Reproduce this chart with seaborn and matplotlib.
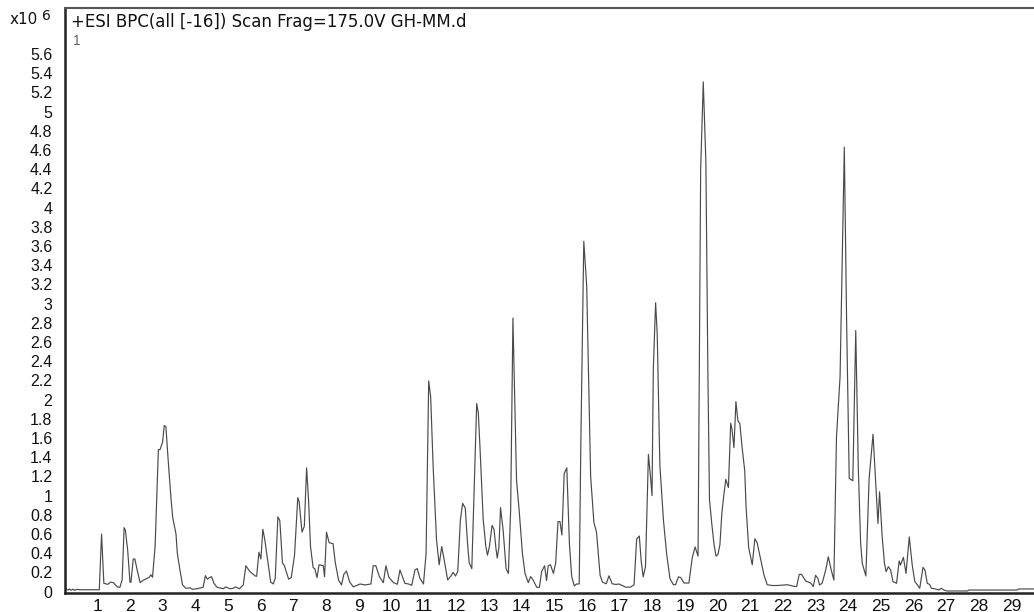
import matplotlib
matplotlib.use("Agg")
import matplotlib.pyplot as plt
import seaborn as sns
import pandas as pd

# ---- data (retention time in min, intensity x10^6) ----
rt_min = [0.04, 0.1, 0.15, 0.2, 0.26, 0.3, 0.37, 0.45, 1.06, 1.13, 1.2, 1.32, 1.41, 1.49, 1.61, 1.69, 1.76,
          1.82, 1.86, 1.93, 2.0, 2.03, 2.1, 2.15, 2.22, 2.31, 2.41, 2.59, 2.64, 2.69, 2.77, 2.87, 2.92, 3.0,
          3.05, 3.10, 3.17, 3.26, 3.31, 3.41, 3.45, 3.53, 3.61, 3.71, 3.84, 3.92, 4.04, 4.24, 4.31, 4.37,
          4.43, 4.5, 4.57, 4.67, 4.86, 4.93, 5.06, 5.16, 5.23, 5.35, 5.47, 5.55, 5.67, 5.84, 5.88, 5.95,
          6.01, 6.07, 6.13, 6.23, 6.31, 6.39, 6.45, 6.53, 6.59, 6.67, 6.73, 6.86, 6.94, 7.04, 7.14, 7.18,
          7.27, 7.34, 7.41, 7.47, 7.53, 7.61, 7.66, 7.73, 7.79, 7.92, 7.96, 8.02, 8.10, 8.22, 8.29, 8.39,
          8.48, 8.55, 8.63, 8.73, 8.84, 9.05, 9.2, 9.38, 9.45, 9.53, 9.64, 9.76, 9.84, 9.93, 10.07, 10.19,
          10.27, 10.42, 10.53, 10.63, 10.73, 10.8, 10.88, 10.99, 11.07, 11.15, 11.21, 11.29, 11.39, 11.47,
          11.55, 11.64, 11.73, 11.83, 11.9, 11.97, 12.04, 12.12, 12.19, 12.27, 12.34, 12.39, 12.47, 12.54,
          12.62, 12.67, 12.72, 12.82, 12.9, 12.95, 13.01, 13.09, 13.15, 13.21, 13.25, 13.3, 13.35, 13.43,
          13.52, 13.59, 13.66, 13.73, 13.79, 13.84, 13.92, 14.02, 14.1, 14.2, 14.27, 14.35, 14.46, 14.54,
          14.61, 14.7, 14.76, 14.81, 14.88, 14.97, 15.04, 15.11, 15.17, 15.23, 15.3, 15.38, 15.46, 15.53,
          15.61, 15.68, 15.76, 15.81, 15.9, 15.99, 16.11, 16.21, 16.29, 16.4, 16.47, 16.59, 16.67, 16.77,
          16.88, 16.98, 17.08, 17.18, 17.33, 17.44, 17.52, 17.6, 17.66, 17.72, 17.79, 17.88, 17.95, 17.99,
          18.03, 18.1, 18.15, 18.23, 18.34, 18.44, 18.54, 18.64, 18.71, 18.8, 18.87, 18.97, 19.12, 19.22,
          19.31, 19.40, 19.48, 19.56, 19.64, 19.7, 19.75, 19.82, 19.89, 19.95, 20.01, 20.07, 20.13, 20.19,
          20.25, 20.33, 20.4, 20.44, 20.5, 20.56, 20.62, 20.68, 20.75, 20.83, 20.87, 20.95, 21.06, 21.14,
          21.21, 21.32, 21.42, 21.52, 21.67, 21.83, 22.13, 22.24, 22.36, 22.42, 22.5, 22.57, 22.7, 22.85,
          22.93, 23.0, 23.07, 23.12, 23.2, 23.31, 23.39, 23.48, 23.56, 23.64, 23.75, 23.88, 23.95, 24.03,
          24.14, 24.23, 24.31, 24.38, 24.43, 24.54, 24.64, 24.76, 24.85, 24.91, 24.96, 25.04, 25.11, 25.16,
          25.23, 25.3, 25.37, 25.48, 25.56, 25.6, 25.69, 25.77, 25.87, 25.96, 26.04, 26.12, 26.19, 26.29,
          26.35, 26.42, 26.49, 26.55, 26.68, 26.78, 26.85, 26.93, 27.03, 27.65, 27.7, 29.18, 29.21, 29.71]

bpc_e6 = [0.024, 0.018, 0.028, 0.015, 0.026, 0.014, 0.024, 0.02, 0.02, 0.60, 0.087, 0.076, 0.10, 0.094, 0.05,
          0.045, 0.12, 0.667, 0.64, 0.43, 0.10, 0.097, 0.34, 0.34, 0.226, 0.094, 0.12, 0.15, 0.175, 0.15,
          0.47, 1.48, 1.48, 1.56, 1.73, 1.72, 1.37, 0.955, 0.77, 0.60, 0.40, 0.226, 0.07, 0.035, 0.04, 0.024,
          0.03, 0.045, 0.167, 0.13, 0.146, 0.156, 0.087, 0.045, 0.03, 0.05, 0.03, 0.035, 0.05, 0.03, 0.07,
          0.27, 0.21, 0.163, 0.16, 0.41, 0.34, 0.65, 0.54, 0.30, 0.10, 0.08, 0.14, 0.78, 0.74, 0.30, 0.27,
          0.13, 0.146, 0.38, 0.98, 0.94, 0.62, 0.68, 1.29, 0.955, 0.47, 0.25, 0.24, 0.146, 0.28, 0.27, 0.156,
          0.62, 0.51, 0.50, 0.30, 0.12, 0.07, 0.18, 0.215, 0.10, 0.05, 0.08, 0.07, 0.08, 0.27, 0.27, 0.157,
          0.094, 0.27, 0.15, 0.094, 0.077, 0.226, 0.087, 0.08, 0.066, 0.226, 0.24, 0.14, 0.08, 0.40, 2.195,
          2.03, 1.27, 0.54, 0.28, 0.47, 0.30, 0.122, 0.163, 0.2, 0.163, 0.21, 0.747, 0.92, 0.87, 0.50, 0.30,
          0.24, 1.025, 1.96, 1.86, 1.51, 0.747, 0.47, 0.38, 0.47, 0.69, 0.65, 0.45, 0.35, 0.46, 0.876, 0.64,
          0.24, 0.19, 0.85, 2.85, 1.9, 1.16, 0.85, 0.4, 0.19, 0.094, 0.157, 0.12, 0.045, 0.045, 0.21, 0.27,
          0.115, 0.27, 0.28, 0.19, 0.30, 0.73, 0.73, 0.59, 1.23, 1.29, 0.50, 0.157, 0.06, 0.08, 0.08, 1.55,
          3.65, 3.18, 1.2, 0.72, 0.62, 0.17, 0.10, 0.082, 0.165, 0.082, 0.075, 0.08, 0.064, 0.047, 0.047,
          0.072, 0.55, 0.58, 0.315, 0.154, 0.26, 1.43, 1.17, 1.0, 2.32, 3.01, 2.68, 1.32, 0.745, 0.387, 0.136,
          0.075, 0.072, 0.154, 0.147, 0.09, 0.09, 0.35, 0.466, 0.37, 4.4, 5.31, 4.47, 2.32, 0.96, 0.71, 0.49,
          0.37, 0.387, 0.49, 0.82, 1.01, 1.17, 1.085, 1.755, 1.69, 1.5, 1.98, 1.78, 1.75, 1.5, 1.26, 0.89,
          0.46, 0.28, 0.55, 0.51, 0.333, 0.172, 0.072, 0.064, 0.064, 0.072, 0.064, 0.054, 0.054, 0.18, 0.18,
          0.11, 0.09, 0.054, 0.17, 0.139, 0.07, 0.087, 0.225, 0.364, 0.225, 0.12, 1.61, 2.24, 4.63, 2.83,
          1.18, 1.155, 2.72, 1.27, 0.503, 0.295, 0.163, 1.18, 1.64, 1.09, 0.71, 1.04, 0.57, 0.295, 0.208,
          0.26, 0.225, 0.104, 0.087, 0.32, 0.277, 0.357, 0.19, 0.57, 0.277, 0.104, 0.07, 0.035, 0.253,
          0.225, 0.087, 0.076, 0.035, 0.028, 0.017, 0.035, 0.017, 0.007, 0.007, 0.017, 0.017, 0.028, 0.028]

x_ticks = list(range(1, 30))
y_ticks = [round(0.2 * i, 1) for i in range(0, 30)]   # 0 ... 5.8
y_tick_labels = [f"{v:g}" for v in y_ticks[:-1]] + [""]  # 5.8 unlabeled

title_text = "+ESI BPC(all [-16]) Scan Frag=175.0V GH-MM.d"

df = pd.DataFrame({"rt": rt_min, "bpc": bpc_e6})

sns.set_theme(style="white")
plt.rcParams["font.family"] = ["Liberation Sans", "DejaVu Sans"]

fig = plt.figure(figsize=(10.34, 6.12), dpi=100)
ax = fig.add_axes([65 / 1034, 19 / 612, (1034 - 65) / 1034, (593 - 8) / 612])

sns.lineplot(data=df, x="rt", y="bpc", ax=ax, color="#4a4a4a", linewidth=0.85,
             estimator=None, sort=False)

ax.set_xlim(0.01, 29.69)
ax.set_ylim(-0.014, 6.08)
ax.set_xticks(x_ticks)
ax.set_xticklabels([str(v) for v in x_ticks], fontsize=12.5)
ax.set_yticks(y_ticks)
ax.set_yticklabels(y_tick_labels, fontsize=11.5)
ax.set_xlabel("")
ax.set_ylabel("")

ax.tick_params(axis="x", direction="out", length=3, width=0.8, pad=1, colors="#000000")
ax.tick_params(axis="y", direction="out", length=6, width=0.8, pad=3, colors="#000000")
ax.tick_params(axis="x", labelcolor="#111111")
ax.tick_params(axis="y", labelcolor="#111111")

for side in ["left", "bottom"]:
    ax.spines[side].set_visible(True)
    ax.spines[side].set_color("#222222")
    ax.spines[side].set_linewidth(1.8)
ax.spines["top"].set_visible(True)
ax.spines["top"].set_color("#555555")
ax.spines["top"].set_linewidth(1.5)
ax.spines["right"].set_visible(False)

ax.text(0.006, 0.992, title_text, transform=ax.transAxes, ha="left", va="top",
        fontsize=12, color="#111111", family=["DejaVu Sans"])
ax.text(0.008, 0.955, "1", transform=ax.transAxes, ha="left", va="top",
        fontsize=10, color="#666666")

fig.text(10 / 1034, 1 - 19 / 612, "x10", ha="left", va="center", fontsize=11,
         color="#111111", family=["DejaVu Sans"])
fig.text(42 / 1034, 1 - 16 / 612, "6", ha="left", va="center", fontsize=10,
         color="#111111", family=["DejaVu Sans"])

fig.savefig("out.png", dpi=100)
